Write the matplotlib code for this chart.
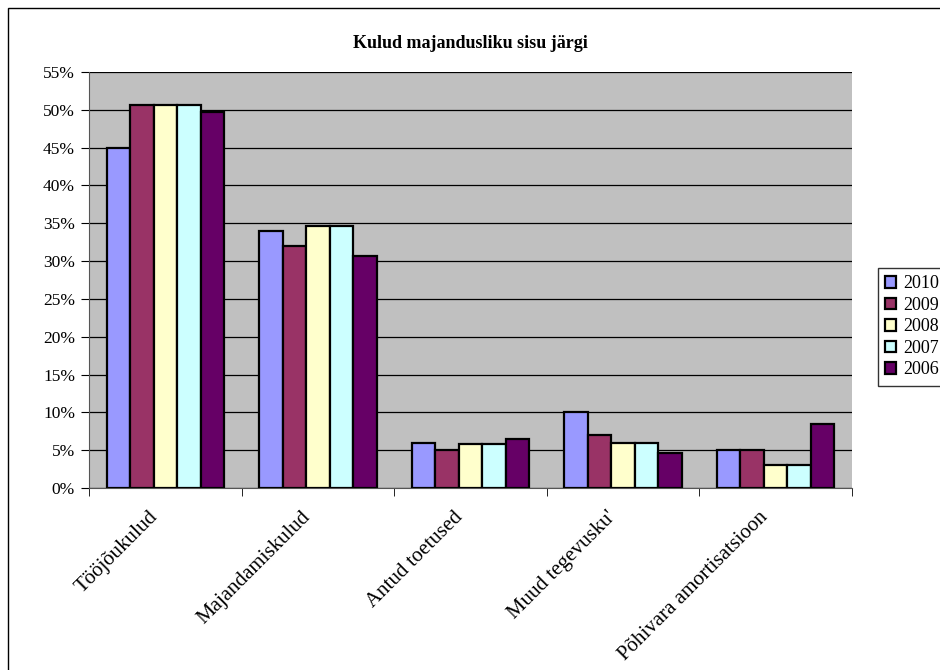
import matplotlib.pyplot as plt
import numpy as np
from matplotlib.patches import Rectangle
from matplotlib.ticker import FuncFormatter

categories = ["Tööjõukulud", "Majandamiskulud", "Antud toetused",
              "Muud tegevusku'", "Põhivara amortisatsioon"]
years = ["2010", "2009", "2008", "2007", "2006"]
values = {
    "2010": [45.0, 34.0, 6.0, 10.0, 5.0],
    "2009": [50.7, 32.0, 5.0, 7.0, 5.0],
    "2008": [50.7, 34.7, 5.8, 6.0, 3.0],
    "2007": [50.7, 34.7, 5.8, 6.0, 3.0],
    "2006": [49.7, 30.7, 6.5, 4.6, 8.5],
}
colors = ["#9999FF", "#993366", "#FFFFCC", "#CCFFFF", "#660066"]

plt.rcParams['font.family'] = ['Liberation Serif', 'DejaVu Serif']

fig = plt.figure(figsize=(9.4, 6.7), dpi=100)
ax = fig.add_axes([89/940, (670-488)/670, (852-89)/940, (488-72)/670])
ax.set_facecolor("#C0C0C0")

# outer chart border
fig.patches.append(Rectangle((8/940, -0.1), 1.0, (670-8)/670 + 0.1,
                             transform=fig.transFigure, fill=False,
                             edgecolor="black", linewidth=1))

x = np.arange(len(categories))
w = 1 / 6.5
for i, y in enumerate(years):
    ax.bar(x - 2*w + i*w, values[y], w, color=colors[i], edgecolor="black",
           linewidth=1.6, label=y, zorder=3)

ax.set_xlim(-0.5, len(categories) - 0.5)
ax.set_ylim(0, 55)
ax.set_yticks(np.arange(0, 56, 5))
ax.yaxis.set_major_formatter(FuncFormatter(lambda v, p: "%d%%" % v))
ax.yaxis.grid(True, color="black", linewidth=0.9, zorder=1)
ax.tick_params(axis="y", direction="out", length=6, labelsize=12.5, pad=4)

# labels sit a little left of the group centre, like Excel does
ax.set_xticks(x - 0.11)
ax.set_xticklabels(categories, rotation=45, ha="right", rotation_mode="anchor",
                   fontsize=15)
ax.set_xticks(np.arange(-0.5, len(categories), 1), minor=True)
ax.tick_params(axis="x", which="major", length=0, pad=14)
ax.tick_params(axis="x", which="minor", direction="out", length=6)

for s in ["top", "right"]:
    ax.spines[s].set_visible(False)
for s in ["left", "bottom"]:
    ax.spines[s].set_color("#555555")

fig.text(0.5, 1 - 43/670, "Kulud majandusliku sisu järgi", ha="center",
         va="center", fontsize=13, fontweight="bold")

leg = fig.legend(loc="upper left", bbox_to_anchor=(878/940, 1 - 268/670),
                 fontsize=13, frameon=True, fancybox=False, edgecolor="black",
                 handlelength=0.6, handleheight=0.6, handletextpad=0.4,
                 labelspacing=0.25, borderpad=0.4, borderaxespad=0)
leg.get_frame().set_linewidth(1)

fig.savefig("out.png", dpi=100)
